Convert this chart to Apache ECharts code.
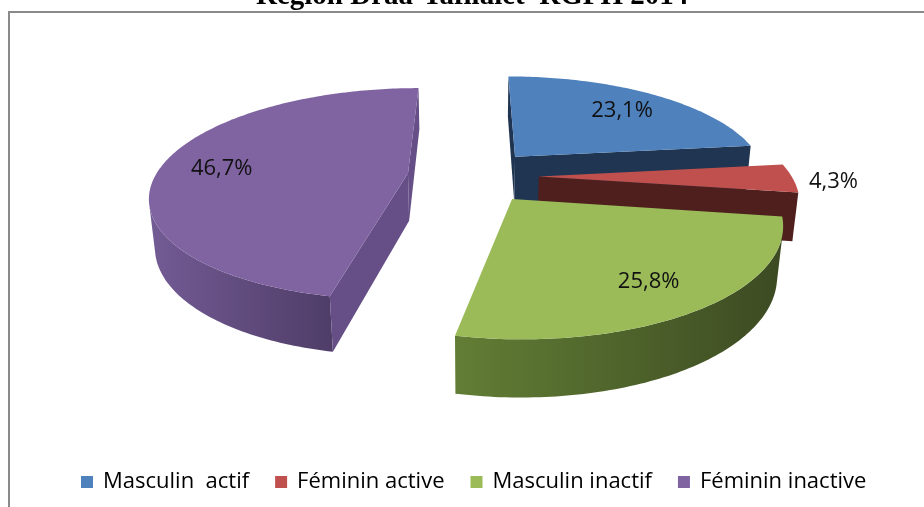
<!DOCTYPE html>
<html>
<head>
<meta charset="utf-8">
<script src="https://cdn.jsdelivr.net/npm/echarts@6/dist/echarts.min.js"></script>
<style>
  html, body { margin: 0; padding: 0; background: #fff; }
  #chart { width: 924px; height: 507px; }
</style>
</head>
<body>
<div id="chart"></div>
<script>
// data
const categories = ["Masculin  actif", "Féminin active", "Masculin inactif", "Féminin inactive"];
const shares = [23.1, 4.3, 25.8, 46.7];

// colours: top face, cut walls, outer wall gradient (left -> right)
const topColors = ["#4F81BD", "#C0504D", "#9BBB59", "#8064A2"];
const cutColors = ["#1F3552", "#4F1F1E", "#4F6228", "#654F86"];
const wallLeft = ["#3A5F8C", "#8E3B39", "#627E35", "#735B94"];
const wallRight = ["#22395A", "#4F1F1E", "#3C4A22", "#4F3D68"];

// 3d view of the pie (perspective, tilted)
const tilt = 24 * Math.PI / 180;
const cam = { ox: 473, oy: 176, focal: 1185, dist: 4.69, sin: Math.sin(tilt), cos: Math.cos(tilt) };
const camPos = [0, cam.dist * cam.sin, -cam.dist * cam.cos];
const R = 1, H = 0.21, EXPLODE = 0.26;

const total = shares.reduce((a, b) => a + b, 0);

function project(X, Y, Z) {
  const depth = cam.dist + Z * cam.cos - Y * cam.sin;
  return [cam.ox + cam.focal * X / depth, cam.oy - cam.focal * (Y * cam.cos + Z * cam.sin) / depth];
}

function faces(n, p) {
  return n[0] * (camPos[0] - p[0]) + n[1] * (camPos[1] - p[1]) + n[2] * (camPos[2] - p[2]) > 0;
}

function sliceAngles(i) {
  const before = shares.slice(0, i).reduce((a, b) => a + b, 0);
  const a0 = before / total * 2 * Math.PI;
  const a1 = (before + shares[i]) / total * 2 * Math.PI;
  return [a0, a1];
}

function renderSlice(params, api) {
  const i = params.seriesIndex;
  const value = api.value(0);
  const [a0, a1] = sliceAngles(i);
  const mid = (a0 + a1) / 2;
  const ex = EXPLODE * Math.sin(mid);
  const ez = EXPLODE * Math.cos(mid);
  const rim = (a, y) => project(ex + R * Math.sin(a), y, ez + R * Math.cos(a));
  const apexTop = project(ex, 0, ez);
  const apexBot = project(ex, -H, ez);

  const steps = Math.max(2, Math.ceil((a1 - a0) / (Math.PI / 180)));
  const angles = [];
  for (let k = 0; k <= steps; k++) angles.push(a0 + (a1 - a0) * k / steps);

  const children = [];

  // outer curved wall, only the part facing the camera
  const vis = angles.filter((a) =>
    faces([Math.sin(a), 0, Math.cos(a)], [ex + R * Math.sin(a), -H / 2, ez + R * Math.cos(a)]));
  if (vis.length > 1) {
    const pts = vis.map((a) => rim(a, 0)).concat(vis.slice().reverse().map((a) => rim(a, -H)));
    const xs = pts.map((p) => p[0]);
    const x0 = Math.min(...xs), x1 = Math.max(...xs);
    children.push({
      type: "polygon",
      shape: { points: pts },
      style: {
        fill: new echarts.graphic.LinearGradient(x0, 0, x1, 0, [
          { offset: 0, color: wallLeft[i] },
          { offset: 1, color: wallRight[i] }
        ], true)
      }
    });
  }

  // radial cut walls
  const cuts = [
    { a: a0, n: [-Math.cos(a0), 0, Math.sin(a0)] },
    { a: a1, n: [Math.cos(a1), 0, -Math.sin(a1)] }
  ];
  cuts.forEach((c) => {
    const p = [ex + 0.5 * R * Math.sin(c.a), -H / 2, ez + 0.5 * R * Math.cos(c.a)];
    if (!faces(c.n, p)) return;
    children.push({
      type: "polygon",
      shape: { points: [apexTop, rim(c.a, 0), rim(c.a, -H), apexBot] },
      style: { fill: cutColors[i] }
    });
  });

  // top face
  children.push({
    type: "polygon",
    shape: { points: [apexTop].concat(angles.map((a) => rim(a, 0))) },
    style: { fill: topColors[i] }
  });

  // value label
  const r = value < 10 ? 1.16 : 0.76;
  const lp = project(ex + r * Math.sin(mid), 0, ez + r * Math.cos(mid));
  children.push({
    type: "text",
    z2: 10,
    style: {
      text: value.toFixed(1).replace(".", ",") + "%",
      x: lp[0],
      y: lp[1] + 3,
      fill: "#111",
      font: "22px 'Open Sans'",
      align: "center",
      verticalAlign: "middle"
    }
  });

  return { type: "group", children };
}

// draw far slices first
const depthRank = shares
  .map((v, i) => ({ i, d: Math.cos((sliceAngles(i)[0] + sliceAngles(i)[1]) / 2) }))
  .sort((a, b) => b.d - a.d)
  .map((o) => o.i);

const chart = echarts.init(document.getElementById("chart"));
chart.setOption({
  animation: false,
  title: {
    text: "Region Draa-Tafilalet  RGPH 2014",
    left: 251,
    top: -23,
    textStyle: { fontFamily: "Liberation Serif", fontWeight: "bold", fontSize: 29, color: "#000" }
  },
  legend: {
    data: categories,
    left: 76,
    top: 466,
    icon: "rect",
    itemWidth: 12,
    itemHeight: 12,
    itemGap: 26,
    textStyle: { fontFamily: "Open Sans", fontSize: 22, color: "#000", padding: [0, 0, 0, 5] }
  },
  graphic: [{
    type: "rect",
    silent: true,
    shape: { x: 9, y: 12, width: 1000, height: 600 },
    style: { fill: "none", stroke: "#8a8a8a", lineWidth: 2 }
  }],
  series: categories.map((name, i) => ({
    type: "custom",
    name,
    coordinateSystem: "none",
    z: 2 + depthRank.indexOf(i),
    itemStyle: { color: topColors[i] },
    renderItem: renderSlice,
    data: [[shares[i]]]
  }))
});
</script>
</body>
</html>
